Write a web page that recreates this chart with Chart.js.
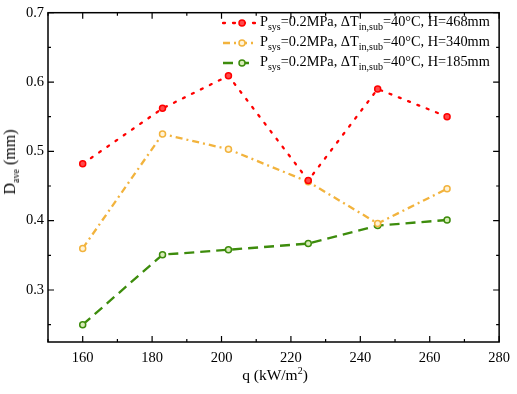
<!DOCTYPE html>
<html><head><meta charset="utf-8">
<script src="https://cdn.jsdelivr.net/npm/chart.js@4/dist/chart.umd.min.js"></script>
<style>
html,body{margin:0;padding:0;background:#fff;}
#wrap{position:relative;width:517px;height:394px;font-family:"Liberation Serif","Times New Roman",serif;color:#000;}
#c{position:absolute;left:0;top:0;}
.row{position:absolute;left:222px;height:20px;line-height:20px;font-size:14.3px;white-space:nowrap;}
.row svg{position:absolute;left:0;top:5px;}
.row span.t{position:absolute;left:38px;top:-2px;}
sub{font-size:10px;vertical-align:-4px;line-height:0;}
sup{font-size:10px;vertical-align:6px;line-height:0;}
#ytitle{position:absolute;left:10px;top:162px;transform:translate(-50%,-50%) rotate(-90deg);font-size:16px;white-space:nowrap;}
#xtitle{position:absolute;left:275px;top:375px;transform:translate(-50%,-50%);font-size:15.5px;white-space:nowrap;}
</style></head>
<body>
<div id="wrap">
<canvas id="c" width="517" height="394"></canvas>
<div id="ytitle">D<sub>ave</sub> (mm)</div>
<div id="xtitle">q (kW/m<sup>2</sup>)</div>
<div id="legend"></div>
</div>
<script>
// ---- data ----
const qValues = [160, 183, 202, 225, 245, 265];
const dH468 = [0.482, 0.562, 0.609, 0.458, 0.590, 0.550];
const dH340 = [0.360, 0.525, 0.503, 0.456, 0.396, 0.446];
const dH185 = [0.250, 0.351, 0.358, 0.367, 0.393, 0.401];
const heights = ['468', '340', '185'];
const xTicks = [160, 180, 200, 220, 240, 260, 280];
const yTicks = [0.3, 0.4, 0.5, 0.6, 0.7];
const xMinor = [150, 170, 190, 210, 230, 250, 270];
const yMinor = [0.25, 0.35, 0.45, 0.55, 0.65];

const styles = [
  {color:'#ff0000', fill:'#ff4a4a', dash:[2,8], cap:'round'},
  {color:'#f2b33d', fill:'#fff3d6', dash:[7,4,2,4], cap:'butt'},
  {color:'#3d8c0c', fill:'#d8ecb8', dash:[10,6], cap:'butt'}
];
const series = [dH468, dH340, dH185];

const datasets = series.map((arr, i) => ({
  label: 'H=' + heights[i] + 'mm',
  data: qValues.map((x, j) => ({x: x, y: arr[j]})),
  borderColor: styles[i].color,
  borderWidth: 2.3,
  borderDash: styles[i].dash,
  borderCapStyle: styles[i].cap,
  pointRadius: 3,
  pointBorderWidth: 1.5,
  pointBorderColor: styles[i].color,
  pointBackgroundColor: styles[i].fill,
  tension: 0,
  fill: false
}));

const frame = {
  id: 'frame',
  afterDatasetsDraw(chart) {
    const ctx = chart.ctx, a = chart.chartArea;
    const xs = chart.scales.x, ys = chart.scales.y;
    ctx.save();
    ctx.strokeStyle = '#000';
    ctx.lineWidth = 1.5;
    ctx.strokeRect(a.left, a.top, a.right - a.left, a.bottom - a.top);
    ctx.lineWidth = 1.2;
    ctx.beginPath();
    const tx = (v, len) => {
      const p = xs.getPixelForValue(v);
      ctx.moveTo(p, a.bottom); ctx.lineTo(p, a.bottom - len);
      ctx.moveTo(p, a.top); ctx.lineTo(p, a.top + len);
    };
    const ty = (v, len) => {
      const p = ys.getPixelForValue(v);
      ctx.moveTo(a.left, p); ctx.lineTo(a.left + len, p);
      ctx.moveTo(a.right, p); ctx.lineTo(a.right - len, p);
    };
    xTicks.forEach(v => tx(v, 6));
    xMinor.forEach(v => tx(v, 3));
    yTicks.forEach(v => ty(v, 6));
    yMinor.forEach(v => ty(v, 3));
    ctx.stroke();
    ctx.restore();
  }
};

const tickFont = {family: '"Liberation Serif", "Times New Roman", serif', size: 14.5};

new Chart(document.getElementById('c'), {
  type: 'line',
  data: {datasets},
  options: {
    responsive: false,
    animation: false,
    layout: {padding: {top: 9, right: 14, left: 0, bottom: 0}},
    plugins: {legend: {display: false}, tooltip: {enabled: false}},
    scales: {
      x: {
        type: 'linear', min: 150, max: 280,
        afterBuildTicks: s => { s.ticks = xTicks.map(v => ({value: v})); },
        afterFit: s => { s.height = 52; },
        grid: {display: false, drawTicks: false},
        border: {display: false},
        ticks: {font: tickFont, color: '#000', padding: 7, maxRotation: 0, autoSkip: false}
      },
      y: {
        type: 'linear', min: 0.225, max: 0.7,
        afterBuildTicks: s => { s.ticks = yTicks.map(v => ({value: v})); },
        afterFit: s => { s.width = 48; },
        grid: {display: false, drawTicks: false},
        border: {display: false},
        ticks: {font: tickFont, color: '#000', padding: 4, autoSkip: false, callback: v => v.toFixed(1)}
      }
    }
  },
  plugins: [frame]
});

// legend (HTML, so the sub/superscripts stay real text)
const lg = document.getElementById('legend');
const rowCenters = [23, 43, 63];
series.forEach((arr, i) => {
  const st = styles[i];
  const row = document.createElement('div');
  row.className = 'row';
  row.style.top = (rowCenters[i] - 10) + 'px';
  row.innerHTML =
    '<svg width="34" height="10" viewBox="0 0 34 10">' +
    '<line x1="1" y1="5" x2="33" y2="5" stroke="' + st.color + '" stroke-width="2.3" stroke-dasharray="' + st.dash.join(',') + '" stroke-linecap="' + st.cap + '"/>' +
    '<circle cx="20" cy="5" r="3" fill="' + st.fill + '" stroke="' + st.color + '" stroke-width="1.5"/></svg>' +
    '<span class="t">P<sub>sys</sub>=0.2MPa, ΔT<sub>in,sub</sub>=40°C, H=' + heights[i] + 'mm</span>';
  lg.appendChild(row);
});
</script>
</body></html>
